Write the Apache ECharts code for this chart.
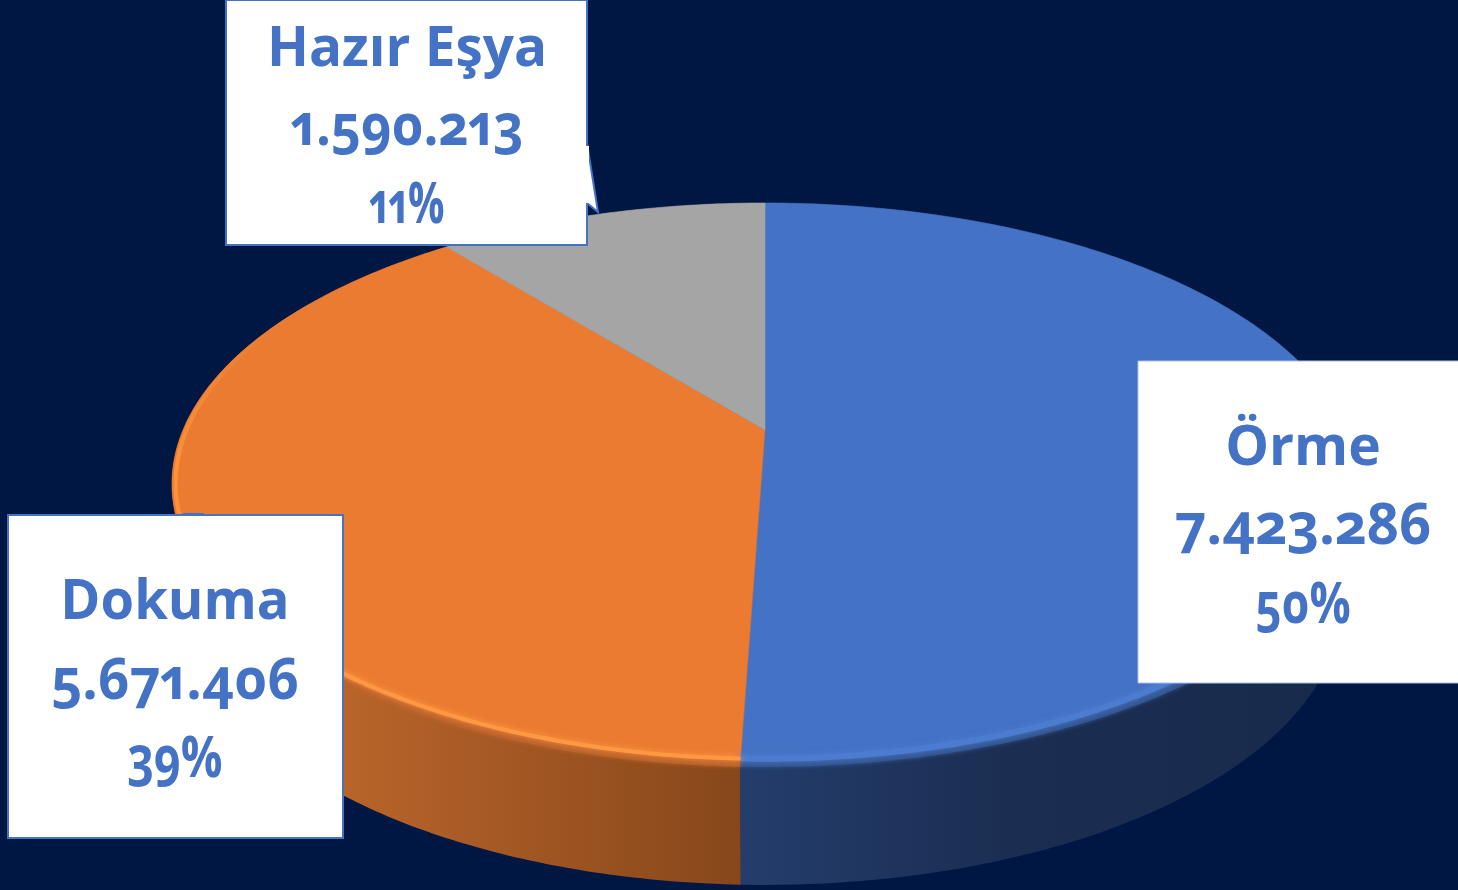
<!DOCTYPE html>
<html>
<head>
<meta charset="utf-8">
<style>
html,body{margin:0;padding:0;background:#001643;}
#main{width:1458px;height:890px;}
#main text{font-feature-settings:"onum" 1,"pnum" 1 !important;}
</style>
<script src="https://cdn.jsdelivr.net/npm/echarts@6/dist/echarts.min.js"></script>
</head>
<body>
<div id="main"></div>
<script>
var categories=['Örme','Dokuma','Hazır Eşya'];
var values=[7423286,5671406,1590213];
var valueLabels=['7.423.286','5.671.406','1.590.213'];
var percentLabels=['50%','39%','11%'];

var topColors=['#4472c4','#ea7b31','#a5a5a5'];
var rimColors=['#4b7bd0','#ff9842','#a5a5a5'];
var edgeColors=['#33548f','#b9622a','#a5a5a5'];

// perspective of the tilted disc
var cx=765,cy=430,ax=582,ay=270.6,persp=0.192,depth=120,bottomScale=0.972;
var total=0;
for(var i=0;i<values.length;i++){total+=values[i];}

var sliceAngles=function(index){
	var sum=0;
	for(var i=0;i<index;i++){sum+=values[i];}
	return [sum/total*Math.PI*2,(sum+values[index])/total*Math.PI*2];
};
var project=function(theta,scale,dy,inset){
	var X=Math.sin(theta)*(inset||1),Y=-Math.cos(theta)*(inset||1);
	var den=1-persp*Y;
	return [cx+ax*scale*X/den,cy+ay*Y/den+dy];
};
var arcPoints=function(a0,a1,scale,dy,inset){
	var pts=[];
	var n=Math.max(2,Math.ceil((a1-a0)/0.012));
	for(var i=0;i<=n;i++){
		pts.push(project(a0+(a1-a0)*i/n,scale,dy,inset));
	}
	return pts;
};

var wallFills=[
	new echarts.graphic.LinearGradient(741,0,1330,0,[{offset:0,color:'#243d6c'},{offset:0.45,color:'#1b2e52'},{offset:1,color:'#182a4c'}],true),
	new echarts.graphic.LinearGradient(180,0,741,0,[{offset:0,color:'#cf7130'},{offset:0.3,color:'#b8642a'},{offset:1,color:'#87471b'}],true),
	'#5a5a5a'
];
var leftEdge=new echarts.graphic.LinearGradient(0,330,0,470,[{offset:0,color:'rgba(255,150,60,0)'},{offset:1,color:'#ff9238'}],true);

var renderWall=function(params,api){
	var a=sliceAngles(params.dataIndex);
	var pts=arcPoints(a[0],a[1],1,0).concat(arcPoints(a[0],a[1],bottomScale,depth).reverse());
	return {type:'polygon',shape:{points:pts},style:{fill:wallFills[params.dataIndex]},silent:true};
};
var renderTop=function(params,api){
	var i=params.dataIndex;
	var a=sliceAngles(i);
	var pts=[[cx,cy]].concat(arcPoints(a[0],a[1],1,0));
	return {type:'polygon',shape:{points:pts},style:{fill:topColors[i],stroke:topColors[i],lineWidth:0.6},silent:true};
};
var renderRim=function(params,api){
	var i=params.dataIndex;
	var a=sliceAngles(i);
	if(i==2){return {type:'group',children:[]};}
	// bevel only along the near side, the ends sit under the label boxes
	var lo=Math.max(a[0],2.0),hi=Math.min(a[1],4.38);
	var kids=[
		{type:'polyline',shape:{points:arcPoints(lo,hi,1,-1,1)},style:{fill:null,stroke:edgeColors[i],lineWidth:6,shadowBlur:4,shadowColor:edgeColors[i]}},
		{type:'polyline',shape:{points:arcPoints(lo,hi,1,0,0.985)},style:{fill:null,stroke:rimColors[i],lineWidth:i==0?6:4,shadowBlur:6,shadowColor:rimColors[i]}}
	];
	if(i==1){
		kids.push({type:'polyline',shape:{points:arcPoints(4.36,a[1]-0.1,1,0,0.994)},style:{fill:null,stroke:leftEdge,lineWidth:4}});
	}
	return {type:'group',silent:true,children:kids};
};

// label boxes, same order as categories
var boxes=[
	{x:1138,y:361,w:330,h:322,tx:1303,ty:[443,522,600],stretch:[0.985,0.965,0.79],stroke:'#a9c0e8',w2:1},
	{x:8,y:515,w:335,h:323,tx:175,ty:[597,676,754],stretch:[0.97,0.94,0.8],stroke:'#4472c4',w2:2},
	{x:226,y:0,w:361,h:245,tx:407,ty:[44,122,200],stretch:[0.98,0.905,0.7],stroke:'#4472c4',w2:2}
];
var lineFonts=['700 56px "Open Sans"','700 58px "Open Sans"','700 58px "Open Sans"'];
var renderLabel=function(params,api){
	var i=params.dataIndex,b=boxes[i];
	var kids=[];
	if(i==2){
		kids.push({type:'polygon',shape:{points:[[b.x+b.w,143],[598,212],[b.x+b.w,203],[b.x+b.w-2,205]]},style:{fill:'#fff',stroke:'#4472c4',lineWidth:2}});
	}
	kids.push({type:'rect',shape:{x:b.x,y:b.y,width:b.w,height:b.h},style:{fill:'#fff',stroke:b.stroke,lineWidth:b.w2}});
	if(i==2){
		kids.push({type:'rect',shape:{x:b.x+b.w-3,y:146,width:5,height:57},style:{fill:'#fff'}});
	}
	if(i==1){
		kids.push({type:'rect',shape:{x:183,y:513,width:21,height:3},style:{fill:'#4472c4'}});
	}
	var lines=[categories[i],valueLabels[i],percentLabels[i]];
	for(var k=0;k<3;k++){
		kids.push({type:'text',x:b.tx,y:b.ty[k],scaleX:b.stretch[k],style:{text:lines[k],x:0,y:0,fill:'#4472c4',font:lineFonts[k],align:'center',verticalAlign:'middle'}});
	}
	return {type:'group',silent:true,children:kids};
};

var option=function(){
	var option={};
	option.backgroundColor='#001643';
	option.animation=false;
	option.series=[
		{type:'custom',coordinateSystem:'none',z:1,renderItem:renderWall,data:values},
		{type:'custom',coordinateSystem:'none',z:2,renderItem:renderTop,data:values},
		{type:'custom',coordinateSystem:'none',z:3,renderItem:renderRim,data:values},
		{type:'custom',coordinateSystem:'none',z:4,renderItem:renderLabel,data:values}
	];
	return option;
};
echarts.init(document.getElementById('main'),null,{renderer:'svg'}).setOption(option());
</script>
</body>
</html>
